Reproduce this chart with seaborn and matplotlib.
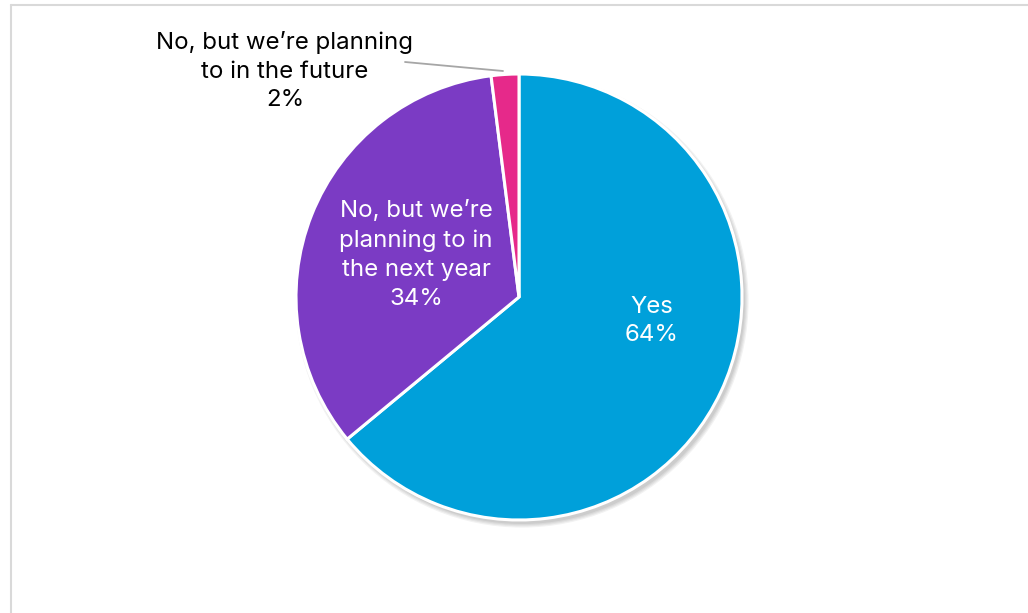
import matplotlib
matplotlib.use("Agg")
import matplotlib.pyplot as plt
from matplotlib.lines import Line2D
from matplotlib.patches import Circle
import seaborn as sns

# Survey responses
categories = ["Yes", "No, but we’re planning to in the next year", "No, but we’re planning to in the future"]
shares = [64, 34, 2]
colors = ["#00A0DA", "#7B3BC4", "#E6298A"]

sns.set_theme(style="white")
plt.rcParams["font.family"] = ["Inter", "DejaVu Sans"]

W, H = 1028, 613
fig = plt.figure(figsize=(W / 100, H / 100), dpi=100)
ax = fig.add_axes([0, 0, 1, 1])

# pixel geometry of the pie
cx, cy, R = 519, 297, 223
ax.axis("off")

# soft drop shadow under the pie
for i, a in enumerate([0.05, 0.05, 0.05, 0.06]):
    ax.add_patch(Circle((3 / R, -4 / R), 1 + (3 - i) * 1.2 / R,
                        facecolor="#000000", alpha=a, lw=0, zorder=0))

wedges, _ = ax.pie(shares, colors=colors, startangle=90, counterclock=False,
                   radius=1, center=(0, 0),
                   wedgeprops=dict(edgecolor="white", linewidth=2.2))
for w in wedges:
    w.set_zorder(2)
ax.set_xlim(-cx / R, (W - cx) / R)
ax.set_ylim(-(H - cy) / R, cy / R)
ax.set_aspect("auto")


def px(x, y):
    return ((x - cx) / R, (cy - y) / R)


fs = 17.3
ls = 1.4
ax.text(*px(652, 321), f"Yes\n{shares[0]}%", color="white", fontsize=fs,
        ha="center", va="center", linespacing=ls, zorder=3)
ax.text(*px(416, 255), f"No, but we’re\nplanning to in\nthe next year\n{shares[1]}%",
        color="white", fontsize=fs, ha="center", va="center", linespacing=ls, zorder=3)
ax.text(*px(285, 71), f"No, but we’re planning\nto in the future\n{shares[2]}%",
        color="black", fontsize=fs, ha="center", va="center", linespacing=ls, zorder=3)

# leader line to the small slice
ax.plot(*zip(px(405, 62), px(503, 71)), color="#A6A6A6", lw=1.3, zorder=1)

# chart area frame (top and left edges)
fig.add_artist(Line2D([11 / W, 11 / W], [0, 1 - 5 / H], color="#D9D9D9", lw=1.5,
                      transform=fig.transFigure))
fig.add_artist(Line2D([11 / W, 1], [1 - 5 / H, 1 - 5 / H], color="#D9D9D9", lw=1.5,
                      transform=fig.transFigure))

fig.savefig("out.png", dpi=100, facecolor="white")
